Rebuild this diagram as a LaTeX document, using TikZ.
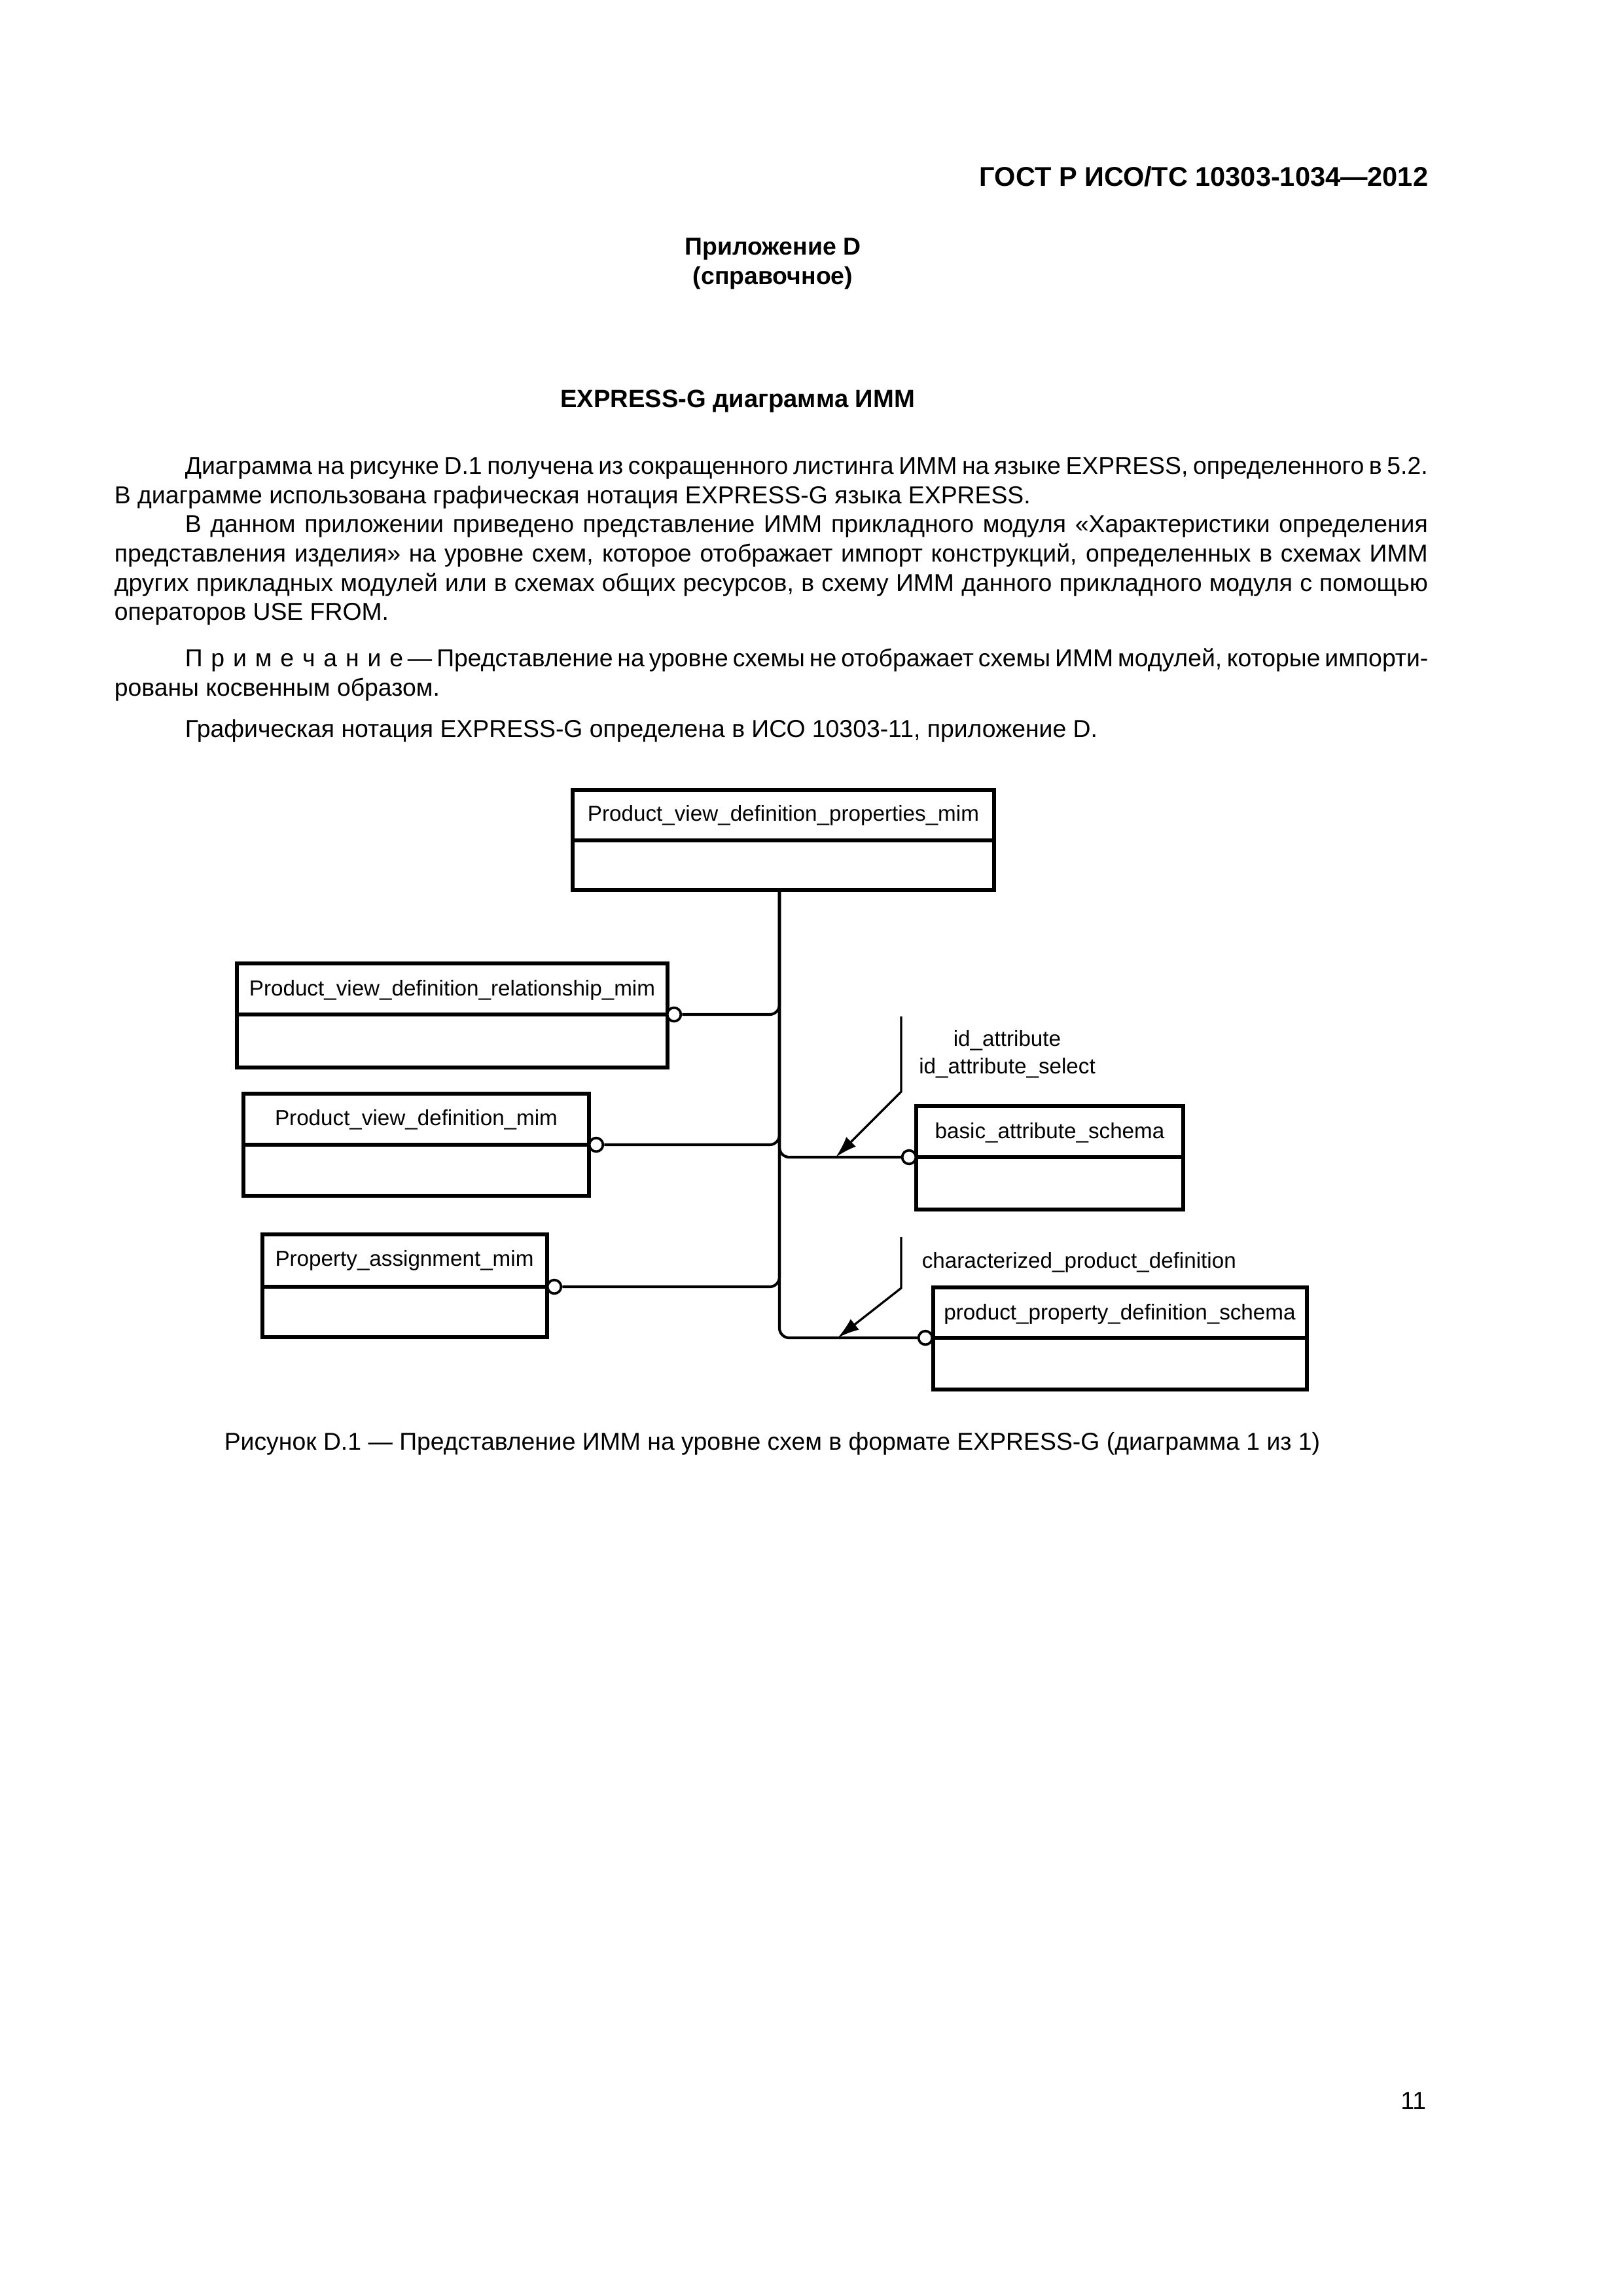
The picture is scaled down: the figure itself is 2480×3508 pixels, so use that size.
\documentclass[tikz,border=0pt]{standalone}
\usepackage{fontspec}
\setmainfont{Liberation Sans}
\usetikzlibrary{arrows.meta,fit}
\newcommand\jline[1]{\hbox to 483.5pt{#1}}
\newcommand\lsp{\kern3.1pt}
\begin{document}
\begin{tikzpicture}[x=0.2409pt,y=-0.2409pt,
  box/.style={draw,line width=1.25pt,inner sep=0pt},
  div/.style={line width=1.25pt},
  conn/.style={line width=1pt,rounded corners=3.6pt},
  circ/.style={draw,circle,line width=0.9pt,fill=white,minimum size=5pt,inner sep=0pt},
  lbl/.style={font=\fontsize{8}{9.6}\selectfont,inner sep=0pt,anchor=base},
  arr/.style={line width=0.8pt,-{Latex[length=8pt,width=5pt]}},
  body/.style={font=\fontsize{9}{10.77}\selectfont,inner sep=0pt,anchor=base west},
  hd/.style={font=\fontsize{9}{10.8}\selectfont\bfseries,inner sep=0pt,anchor=base},
]
\useasboundingbox[fill=white] (0,0) rectangle (2480,3508);

% header
\node[font=\fontsize{10}{12}\selectfont\bfseries,inner sep=0pt,anchor=base east] (hdr) at (2183,284) {ГОСТ Р ИСО/ТС 10303-1034—2012};
\node[hd] (app) at (1181,389) {Приложение D};
\node[hd] (inf) at (1181,434) {(справочное)};
\node[font=\fontsize{9.2}{11}\selectfont\bfseries,inner sep=0pt,anchor=base] (ttl) at (1127,622) {EXPRESS-G диаграмма ИММ};

% body text
\node[body] (l1) at (174,724) {\jline{\hskip26pt Диаграмма на рисунке D.1 получена из сокращенного листинга ИММ на языке EXPRESS, определенного в 5.2.}};
\node[body] (l2) at (174,769) {В диаграмме использована графическая нотация EXPRESS-G языка EXPRESS.};
\node[body] (l3) at (174,813) {\jline{\hskip26pt В данном приложении приведено представление ИММ прикладного модуля «Характеристики определения}};
\node[body] (l4) at (174,858) {\jline{представления изделия» на уровне схем, которое отображает импорт конструкций, определенных в схемах ИММ}};
\node[body] (l5) at (174,903) {\jline{других прикладных модулей или в схемах общих ресурсов, в схему ИММ данного прикладного модуля с помощью}};
\node[body] (l6) at (174,947) {операторов USE FROM.};
\node[body] (l7) at (174,1018) {\jline{\hskip26pt П\lsp р\lsp и\lsp м\lsp е\lsp ч\lsp а\lsp н\lsp и\lsp е — Представление на уровне схемы не отображает схемы ИММ модулей, которые импорти-}};
\node[body] (l8) at (174,1063) {рованы косвенным образом.};
\node[body] (l9) at (174,1126) {\hskip26pt Графическая нотация EXPRESS-G определена в ИСО 10303-11, приложение D.};

% boxes
\node[box,fit={(875,1207)(1519,1360)}] (A) {};
\draw[div] (875,1284) -- (1519,1284);
\node[lbl] (At) at (1197,1254) {Product\_view\_definition\_properties\_mim};

\node[box,fit={(362,1472)(1020,1631)}] (B) {};
\draw[div] (362,1550) -- (1020,1550);
\node[lbl] (Bt) at (691,1521) {Product\_view\_definition\_relationship\_mim};

\node[box,fit={(372,1671)(900,1827)}] (C) {};
\draw[div] (372,1749) -- (900,1749);
\node[lbl] (Ct) at (636,1719) {Product\_view\_definition\_mim};

\node[box,fit={(401,1886)(836,2043)}] (D) {};
\draw[div] (401,1966) -- (836,1966);
\node[lbl] (Dt) at (618,1934) {Property\_assignment\_mim};

\node[box,fit={(1400,1690)(1808,1848)}] (E) {};
\draw[div] (1400,1768) -- (1808,1768);
\node[lbl] (Et) at (1604,1739) {basic\_attribute\_schema};

\node[box,fit={(1426,1967)(1997,2123)}] (F) {};
\draw[div] (1426,2044) -- (1997,2044);
\node[lbl] (Ft) at (1711,2016) {product\_property\_definition\_schema};

% connectors
\coordinate (T) at (1191,1360);
\node[circ] (cB) at (1030,1550) {};
\node[circ] (cC) at (911,1749) {};
\node[circ] (cD) at (847,1966) {};
\node[circ] (cE) at (1389,1768) {};
\node[circ] (cF) at (1414,2044) {};
\draw[conn] (cB.east) -| (T);
\draw[conn] (cC.east) -| (T);
\draw[conn] (cD.east) -| (T);
\draw[conn] (T) |- (cE.west);
\draw[conn] (T) |- (cF.west);

% import arrows and labels
\coordinate (a1s) at (1377,1553);
\coordinate (a1m) at (1377,1668);
\coordinate (a1e) at (1277,1768);
\draw[arr] (a1s) -- (a1m) -- (a1e);
\coordinate (a2s) at (1377,1890);
\coordinate (a2m) at (1377,1968);
\coordinate (a2e) at (1280,2044);
\draw[arr] (a2s) -- (a2m) -- (a2e);
\node[lbl] (L1) at (1539,1598) {id\_attribute};
\node[lbl] (L2) at (1539,1640) {id\_attribute\_select};
\node[lbl,anchor=base west] (L3) at (1408,1937) {characterized\_product\_definition};

% caption and page number
\node[font=\fontsize{9}{10.8}\selectfont,inner sep=0pt,anchor=base] (cap) at (1180,2215) {Рисунок D.1 — Представление ИММ на уровне схем в формате EXPRESS-G (диаграмма 1 из 1)};
\node[font=\fontsize{9}{10.8}\selectfont,inner sep=0pt,anchor=base east] (pg) at (2180,3222) {11};
\end{tikzpicture}
\end{document}
